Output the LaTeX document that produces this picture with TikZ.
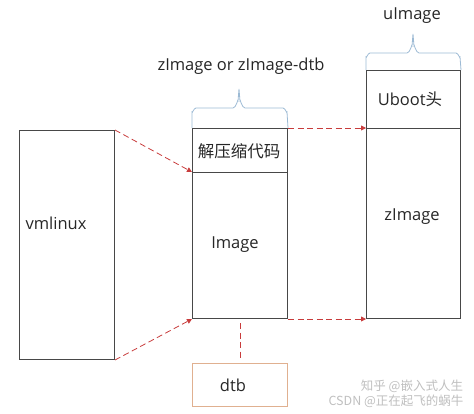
\documentclass[tikz,border=0pt]{standalone}
\usepackage{fontspec}
\setmainfont{Open Sans}
\newfontfamily\cjk{Noto Sans CJK SC}
\usetikzlibrary{arrows.meta}
\definecolor{boxline}{HTML}{484848}
\definecolor{arrred}{HTML}{C83C3C}
\definecolor{bracecol}{HTML}{9CBAD4}
\definecolor{dtbcol}{HTML}{E0B090}
\tikzset{
  blk/.style={draw=boxline, line width=1pt, minimum width=95pt, inner sep=0pt, anchor=north west},
  dasharr/.style={draw=arrred, line width=0.8pt, dash pattern=on 6pt off 3.5pt, -{Triangle[length=5pt,width=5pt]}},
  dashln/.style={draw=arrred, line width=0.8pt, dash pattern=on 6pt off 3.5pt},
  bracestyle/.style={draw=bracecol, line width=0.8pt},
  lbl/.style={font=\fontsize{16.5}{18}\selectfont, text=black!85, inner sep=0pt},
  clbl/.style={font=\cjk\fontsize{16.5}{18}\selectfont, text=black!85, inner sep=0pt},
  wm/.style={font=\cjk\fontsize{12.5}{13}\selectfont, text=black!25, inner sep=0pt}
}
\begin{document}
\begin{tikzpicture}[x=1pt,y=-1pt]
\useasboundingbox (0,0) rectangle (474,413);
% boxes
\node[blk, minimum height=229pt] (vm) at (19,130) {};
\node[blk, minimum height=44pt] (dec) at (192,128) {};
\node[blk, minimum height=146pt] (img) at (192,172) {};
\node[blk, minimum height=58pt, minimum width=94pt] (uboot) at (366,70) {};
\node[blk, minimum height=190pt, minimum width=94pt] (zimg) at (366,128) {};
\node[blk, draw=dtbcol, minimum height=43pt] (dtb) at (192,363) {};
% labels
\node[lbl] (tvm) at (56,223) {vmlinux};
\node[clbl] (tdec) at (239,151) {解压缩代码};
\node[lbl] (timg) at (235,245) {Image};
\node[lbl] (tub) at (410,99) {Uboot{\cjk 头}};
\node[lbl] (tzimg) at (412,217) {zImage};
\node[lbl] (tdtb) at (233,385) {dtb};
\node[lbl] (tzz) at (241,66) {zImage or zImage-dtb};
\node[lbl] (tu) at (412,16) {uImage};
% watermarks
\node[wm] (wm1) at (412,386) {知乎 @嵌入式人生};
\node[wm] (wm2) at (396,401) {CSDN @正在起飞的蜗牛};
% braces
\draw[bracestyle] (dec.north west) -- (192,112) to[out=-90,in=180] (196,108) -- (233,108)
   to[out=0,in=90] (238,101) -- (239,89) -- (240,101) to[out=90,in=180] (245,108) -- (283,108)
   to[out=0,in=-90] (287,112) -- (dec.north east);
\draw[bracestyle] (uboot.north west) -- (366,57) to[out=-90,in=180] (370,53) -- (407,53)
   to[out=0,in=90] (412,46) -- (413,34) -- (414,46) to[out=90,in=180] (419,53) -- (456,53)
   to[out=0,in=-90] (460,57) -- (uboot.north east);
% connectors
\draw[dasharr] (vm.north east) -- (img.north west);
\draw[dasharr] (vm.south east) -- (img.south west);
\draw[dasharr] (dec.north east) -- (zimg.north west);
\draw[dasharr] (img.south east) -- (zimg.south west);
\draw[dashln] ([yshift=-4pt]img.south) -- ([yshift=5pt]dtb.north);
\end{tikzpicture}
\end{document}
